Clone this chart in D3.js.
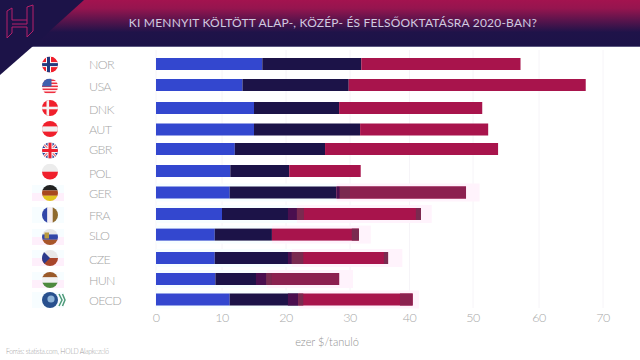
<!DOCTYPE html>
<html>
<head>
<meta charset="utf-8">
<script src="https://cdn.jsdelivr.net/npm/d3@7"></script>
<style>
  html, body { margin: 0; padding: 0; background: #fff; }
  svg { display: block; }
  text { font-family: Lato, "Open Sans", sans-serif; font-weight: 300; }
</style>
</head>
<body>
<svg id="chart"></svg>
<script>
// ezer $/tanulo, a kepbol olvasva
const countries = ["NOR", "USA", "DNK", "AUT", "GBR", "POL", "GER", "FRA", "SLO", "CZE", "HUN", "OECD"];
const primary = [16.3, 13.2, 15, 15, 12, 11.3, 11.2, 10, 8.9, 8.9, 9, 11.2];
const secondary = [15.6, 16.6, 13.3, 16.7, 14.1, 9.2, 16.7, 11.7, 8.9, 12, 8, 10.7];
const tertiary = [25.3, 37.5, 23.1, 20.6, 27.7, 11.3, 21, 20.1, 13.7, 15.5, 11.3, 18.6];
const ticks = [0, 10, 20, 30, 40, 50, 60, 70];

// a tengely a kepen nem teljesen egyenletes
const tickPos = [156, 222, 286, 350, 409.5, 473, 539, 603];
const rowCenters = [64, 85, 108, 129.5, 149, 171, 192.5, 214, 234.6, 258, 279, 299.5];
const flagCenters = [64.6, 86.5, 108, 129, 150.5, 171.7, 193, 215, 237, 258, 280, 300];
const labelCenters = [65, 87, 110, 129.7, 150, 173.5, 193.5, 215.7, 236, 259.5, 280.7, 301];

// takarasok a szegmensek hataran (kepi muterm)
const patchRow = ["GER", "GER", "GER", "FRA", "FRA", "FRA", "SLO", "CZE", "CZE", "CZE", "HUN", "HUN", "HUN", "OECD", "OECD", "OECD"];
const patchFrom = [27.9, 28.4, 30, 20.3, 21.7, 41, 30.3, 20.3, 20.9, 35.7, 15.3, 16.9, 17.8, 20.3, 21.9, 38.4];
const patchTo = [28.4, 30, 48.9, 21.7, 22.8, 41.8, 31.5, 20.9, 22.7, 36.4, 16.9, 17.8, 28.3, 21.9, 22.7, 40.5];
const patchFill = ["#4a0f4f", "#7a2a50", "#8c2150", "#4a0f4f", "#7a2a50", "#7a2a50", "#7a2a50", "#4a0f4f", "#7a2a50", "#7a2a50", "#4a0f4f", "#7a2a50", "#8c2150", "#4a0f4f", "#7a2a50", "#8c2150"];

const haloRows = ["GER", "FRA", "SLO", "CZE", "HUN", "OECD"];
const haloFrom = [27.9, 21.7, 17.8, 20.9, 17, 22];
const haloTo = [51, 43.5, 33.5, 38.8, 30.5, 41.5];

const width = 640;
const height = 360;
const svg = d3.select("#chart").attr("width", width).attr("height", height);
const defs = svg.append("defs");

const x = d3.scaleLinear().domain(ticks).range(tickPos);
const y = d3.scaleOrdinal().domain(countries).range(rowCenters);
const flagY = d3.scaleOrdinal().domain(countries).range(flagCenters);
const labelY = d3.scaleOrdinal().domain(countries).range(labelCenters);
const barH = 12;

// header
const grad = defs.append("linearGradient").attr("id", "head").attr("x1", 0).attr("y1", 0).attr("x2", 0).attr("y2", 1);
grad.append("stop").attr("offset", "0%").attr("stop-color", "#a3134f");
grad.append("stop").attr("offset", "18%").attr("stop-color", "#96154f");
grad.append("stop").attr("offset", "70%").attr("stop-color", "#1f1349");
grad.append("stop").attr("offset", "100%").attr("stop-color", "#1c1348");

svg.append("rect").attr("width", width).attr("height", 46).attr("fill", "url(#head)");
svg.append("rect").attr("y", 46).attr("width", width).attr("height", 1).attr("fill", "#5b5780");
svg.append("path").attr("d", "M0 0H84L32 47L0 75Z").attr("fill", "#1c1348");

// logo
svg.append("path")
  .attr("d", "M7 11L12 8V20H27V7L33 5V31L27 37V27H12V33L7 38ZM12 24H27M27 20V24")
  .attr("fill", "none").attr("stroke", "#b5206a").attr("stroke-width", 1);

svg.append("text").attr("x", 333).attr("y", 27).attr("text-anchor", "middle")
  .attr("fill", "#cfcbe0").attr("font-size", 12).attr("letter-spacing", 0.2)
  .style("font-weight", 400)
  .text("KI MENNYIT KÖLTÖTT ALAP-, KÖZÉP- ÉS FELSŐOKTATÁSRA 2020-BAN?");

// grid
svg.append("g").selectAll("line").data(ticks).join("line")
  .attr("x1", d => x(d)).attr("x2", d => x(d))
  .attr("y1", 50).attr("y2", 308)
  .attr("stroke", "#f6f4f8").attr("stroke-width", 1);

// halok a lenti soroknal
svg.append("g").selectAll("rect").data(haloRows).join("rect")
  .attr("x", 156)
  .attr("y", d => y(d) - barH / 2 - 3)
  .attr("width", (d, i) => x(haloFrom[i]) - 156)
  .attr("height", barH + 6)
  .attr("fill", "#f7feff");
svg.append("g").selectAll("rect").data(haloRows).join("rect")
  .attr("x", (d, i) => x(haloFrom[i]))
  .attr("y", d => y(d) - barH / 2 - 3)
  .attr("width", (d, i) => x(haloTo[i]) - x(haloFrom[i]))
  .attr("height", barH + 6)
  .attr("fill", "#fff3fc");
svg.append("g").selectAll("rect").data(haloRows).join("rect")
  .attr("x", 32).attr("y", d => flagY(d) - 8).attr("width", 32).attr("height", 8)
  .attr("fill", "#f7fdff");
svg.append("g").selectAll("rect").data(haloRows).join("rect")
  .attr("x", 32).attr("y", d => flagY(d)).attr("width", 32).attr("height", 8)
  .attr("fill", (d, i) => i === 1 || i === 5 ? "#f7fdff" : "#feeffb");

// bars
const rows = countries.map((c, i) => ({ c, a: primary[i], b: secondary[i], t: tertiary[i] }));
const stack = d3.stack().keys(["a", "b", "t"])(rows);
const barColors = ["#3347cf", "#1c1348", "#a8144c"];
svg.append("g").selectAll("g").data(stack).join("g")
  .attr("fill", (d, i) => barColors[i])
  .selectAll("rect").data(d => d).join("rect")
  .attr("x", d => x(d[0]))
  .attr("y", d => y(d.data.c) - barH / 2)
  .attr("width", d => x(d[1]) - x(d[0]))
  .attr("height", barH);

svg.append("g").selectAll("rect").data(patchRow).join("rect")
  .attr("x", (d, i) => x(patchFrom[i]))
  .attr("y", d => y(d) - barH / 2)
  .attr("width", (d, i) => x(patchTo[i]) - x(patchFrom[i]))
  .attr("height", barH)
  .attr("fill", (d, i) => patchFill[i]);

// country labels
svg.append("g").selectAll("text").data(countries).join("text")
  .attr("x", 89).attr("y", d => labelY(d) + 4.4)
  .attr("fill", "#a6a6a6").attr("font-size", 12.5).attr("letter-spacing", -0.7)
  .text(d => d);

// flags
const flagR = 8;
const flags = svg.append("g").selectAll("g").data(countries).join("g")
  .attr("transform", d => `translate(50,${flagY(d)})`);
flags.each(function(d, i) {
  defs.append("clipPath").attr("id", "clip" + i).append("circle").attr("r", flagR);
  const g = d3.select(this).append("g").attr("clip-path", `url(#clip${i})`);
  const r = (xx, yy, w, h, f) => g.append("rect").attr("x", xx).attr("y", yy).attr("width", w).attr("height", h).attr("fill", f);
  if (d === "NOR") {
    r(-8, -8, 16, 16, "#f0202c"); r(-4, -8, 5, 16, "#fff"); r(-8, -2.5, 16, 5, "#fff");
    r(-3, -8, 3, 16, "#243a7e"); r(-8, -1.5, 16, 3, "#243a7e");
  } else if (d === "USA") {
    r(-8, -8, 16, 16, "#fff");
    [-7, -4, -1, 2, 5].forEach(v => r(-8, v, 16, 1.6, "#ee3040"));
    r(-8, -8, 9.5, 8, "#3f5fae");
  } else if (d === "DNK") {
    r(-8, -8, 16, 16, "#f0202c"); r(-3.5, -8, 2.6, 16, "#f4f4f4"); r(-8, -1.3, 16, 2.6, "#f4f4f4");
  } else if (d === "AUT") {
    r(-8, -8, 16, 16, "#f0202c"); r(-8, -2.6, 16, 5.2, "#f0f0f0");
  } else if (d === "GBR") {
    r(-8, -8, 16, 16, "#2a3f96");
    g.append("path").attr("d", "M-8 -8L8 8M8 -8L-8 8").attr("stroke", "#f4f4f4").attr("stroke-width", 3);
    g.append("path").attr("d", "M-8 -8L8 8M8 -8L-8 8").attr("stroke", "#ee2030").attr("stroke-width", 1);
    r(-2.5, -8, 5, 16, "#f4f4f4"); r(-8, -2.5, 16, 5, "#f4f4f4");
    r(-1.5, -8, 3, 16, "#ee2030"); r(-8, -1.5, 16, 3, "#ee2030");
  } else if (d === "POL") {
    r(-8, -8, 16, 8, "#ececec"); r(-8, 0, 16, 8, "#f0202c");
  } else if (d === "GER") {
    r(-8, -8, 16, 5.4, "#222"); r(-8, -2.6, 16, 5.4, "#a8481f"); r(-8, 2.7, 16, 5.4, "#e0c420");
  } else if (d === "FRA") {
    r(-8, -8, 5.4, 16, "#3347a8"); r(-2.6, -8, 5.4, 16, "#f6eef0"); r(2.7, -8, 5.4, 16, "#8f6a2e");
  } else if (d === "SLO") {
    r(-8, -8, 16, 5.4, "#e6e6e6"); r(-8, -2.6, 16, 5.4, "#3347a8"); r(-8, 2.7, 16, 5.4, "#a8562a");
    r(-5.5, -4.5, 4.5, 6, "#b89a40");
  } else if (d === "CZE") {
    r(-8, -8, 16, 8, "#e8e8e8"); r(-8, 0, 16, 8, "#a8452a");
    g.append("path").attr("d", "M-8 -8L0 0L-8 8Z").attr("fill", "#2b3a8c");
  } else if (d === "HUN") {
    r(-8, -8, 16, 5.4, "#9a5a2a"); r(-8, -2.6, 16, 5.4, "#f2f2f2"); r(-8, 2.7, 16, 5.4, "#4e8a3e");
  } else {
    r(-8, -8, 16, 16, "#28508e");
    g.append("circle").attr("cx", 1).attr("cy", -1).attr("r", 3.6).attr("fill", "#8fb4d8");
  }
});
// OECD nyilak
svg.append("path").attr("d", "M59 294L62 300L59 306M62.5 294L65 300L62.5 306")
  .attr("fill", "none").attr("stroke", "#4c9a78").attr("stroke-width", 1.5);

// x axis labels
svg.append("g").selectAll("text").data(ticks).join("text")
  .attr("x", d => x(d)).attr("y", 321.5)
  .attr("text-anchor", "middle").attr("fill", "#a8a8a8").attr("font-size", 12.5).attr("letter-spacing", -0.5)
  .text(d => d);

svg.append("text").attr("x", 327).attr("y", 346).attr("text-anchor", "middle")
  .attr("fill", "#929292").attr("font-size", 11).text("ezer $/tanuló");

svg.append("text").attr("x", 6).attr("y", 354)
  .attr("fill", "#a0a0a0").attr("font-size", 6.8).attr("letter-spacing", -0.25).text("Forrás: statista.com, HOLD Alapkezelő");
</script>
</body>
</html>
